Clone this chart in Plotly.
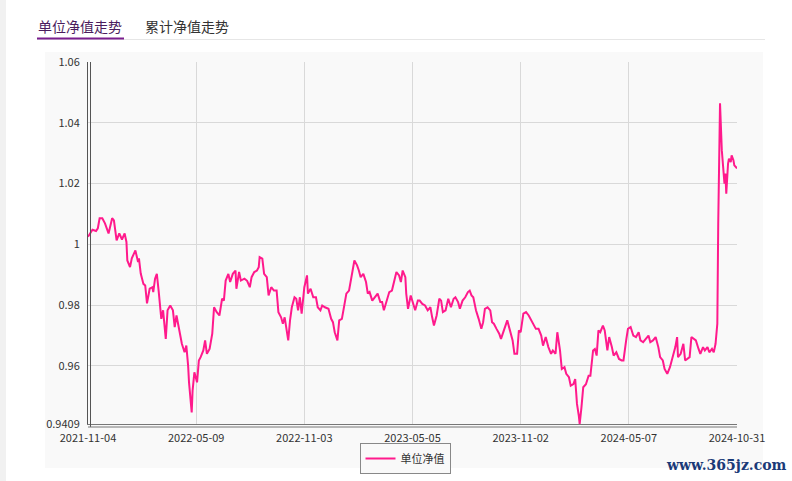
import plotly.graph_objects as go

# trading-day index since 2021-11-04 and unit NAV
day = [0, 5, 9, 11, 13, 16, 19, 23, 27, 29, 32, 35, 38, 41, 43, 44, 47, 49, 53, 56,
       57, 59, 62, 64, 66, 69, 72, 73, 75, 77, 79, 82, 84, 87, 89, 92, 95, 97, 99, 102,
       105, 108, 110, 112, 113, 116, 117, 119, 122, 124, 126, 129, 131, 133, 136, 139, 141, 144, 147, 150,
       152, 154, 157, 159, 162, 165, 166, 169, 171, 175, 178, 181, 183, 186, 189, 191, 192, 195, 197, 200,
       202, 205, 208, 211, 213, 216, 218, 220, 222, 224, 226, 228, 231, 233, 235, 237, 239, 242, 245, 246,
       249, 252, 255, 257, 260, 262, 265, 269, 272, 274, 276, 279, 281, 284, 287, 289, 292, 294, 296, 298,
       301, 303, 305, 308, 311, 313, 315, 318, 321, 324, 327, 329, 331, 334, 337, 340, 343, 345, 348, 350,
       352, 355, 356, 358, 361, 364, 366, 369, 371, 374, 377, 380, 383, 385, 387, 390, 393, 395, 397, 400,
       403, 406, 409, 411, 414, 416, 419, 422, 425, 427, 429, 431, 434, 437, 440, 442, 444, 447, 450, 452,
       454, 457, 460, 462, 465, 467, 469, 472, 475, 477, 480, 482, 484, 487, 490, 493, 496, 498, 501, 504,
       507, 509, 512, 515, 518, 520, 523, 525, 528, 530, 533, 535, 538, 540, 543, 545, 547, 549, 550, 552,
       554, 557, 560, 562, 565, 567, 569, 571, 573, 576, 578, 581, 583, 586, 588, 591, 594, 597, 599, 602,
       604, 607, 610, 613, 616, 618, 621, 624, 627, 629, 632, 635, 638, 640, 643, 645, 648, 651, 654, 657,
       659, 660, 663, 666, 668, 670, 673, 675, 678, 680, 683, 685, 688, 690, 693, 695, 698, 700, 702, 704,
       705, 706, 707, 709, 711, 712, 713, 714, 716, 717, 719, 720, 722, 723, 726]
nav = [1.0025, 1.0048, 1.0044, 1.0053, 1.0086, 1.0086, 1.0069, 1.0036, 1.0086, 1.0079,
       1.0013, 1.0036, 1.0016, 1.0036, 1.0008, 0.9947, 0.9925, 0.9954, 0.9980, 0.9942,
       0.9954, 0.9904, 0.9870, 0.9865, 0.9806, 0.9854, 0.9859, 0.9843, 0.9887, 0.9903,
       0.9848, 0.9755, 0.9783, 0.9689, 0.9783, 0.9799, 0.9783, 0.9728, 0.9766, 0.9722,
       0.9673, 0.9645, 0.9667, 0.9601, 0.9546, 0.9447, 0.9519, 0.9579, 0.9546, 0.9618,
       0.9629, 0.9651, 0.9684, 0.9640, 0.9656, 0.9706, 0.9793, 0.9777, 0.9766, 0.9821,
       0.9815, 0.9881, 0.9903, 0.9876, 0.9903, 0.9914, 0.9854, 0.9909, 0.9881, 0.9887,
       0.9880, 0.9859, 0.9892, 0.9909, 0.9914, 0.9925, 0.9958, 0.9953, 0.9903, 0.9892,
       0.9832, 0.9859, 0.9848, 0.9848, 0.9777, 0.9760, 0.9739, 0.9760, 0.9728, 0.9684,
       0.9750, 0.9793, 0.9826, 0.9821, 0.9783, 0.9826, 0.9772, 0.9859, 0.9898, 0.9838,
       0.9854, 0.9826, 0.9826, 0.9793, 0.9783, 0.9799, 0.9793, 0.9788, 0.9755, 0.9744,
       0.9711, 0.9684, 0.9750, 0.9755, 0.9804, 0.9838, 0.9848, 0.9876, 0.9914, 0.9947,
       0.9931, 0.9914, 0.9892, 0.9903, 0.9876, 0.9838, 0.9843, 0.9815, 0.9826, 0.9838,
       0.9810, 0.9810, 0.9783, 0.9815, 0.9843, 0.9848, 0.9892, 0.9909, 0.9898, 0.9876,
       0.9914, 0.9892, 0.9838, 0.9788, 0.9832, 0.9804, 0.9783, 0.9815, 0.9815, 0.9804,
       0.9799, 0.9783, 0.9793, 0.9760, 0.9733, 0.9766, 0.9821, 0.9815, 0.9777, 0.9783,
       0.9821, 0.9793, 0.9821, 0.9826, 0.9810, 0.9788, 0.9815, 0.9826, 0.9843, 0.9848,
       0.9832, 0.9826, 0.9783, 0.9755, 0.9722, 0.9744, 0.9788, 0.9793, 0.9783, 0.9744,
       0.9739, 0.9722, 0.9706, 0.9689, 0.9717, 0.9728, 0.9750, 0.9717, 0.9684, 0.9640,
       0.9640, 0.9717, 0.9711, 0.9772, 0.9777, 0.9766, 0.9750, 0.9739, 0.9722, 0.9722,
       0.9700, 0.9667, 0.9695, 0.9662, 0.9640, 0.9651, 0.9640, 0.9711, 0.9651, 0.9590,
       0.9596, 0.9574, 0.9563, 0.9535, 0.9540, 0.9557, 0.9475, 0.9437, 0.9409, 0.9464,
       0.9530, 0.9540, 0.9568, 0.9568, 0.9651, 0.9656, 0.9634, 0.9717, 0.9711, 0.9733,
       0.9717, 0.9651, 0.9695, 0.9662, 0.9634, 0.9645, 0.9623, 0.9618, 0.9618, 0.9684,
       0.9722, 0.9728, 0.9700, 0.9695, 0.9711, 0.9684, 0.9678, 0.9689, 0.9700, 0.9678,
       0.9684, 0.9695, 0.9662, 0.9629, 0.9618, 0.9590, 0.9574, 0.9596, 0.9629, 0.9662,
       0.9695, 0.9629, 0.9640, 0.9673, 0.9618, 0.9623, 0.9629, 0.9695, 0.9689, 0.9684,
       0.9656, 0.9640, 0.9662, 0.9651, 0.9662, 0.9645, 0.9656, 0.9645, 0.9673, 0.9739,
       1.0068, 1.0343, 1.0464, 1.0310, 1.0244, 1.0200, 1.0233, 1.0167, 1.0266, 1.0282,
       1.0271, 1.0293, 1.0277, 1.0260, 1.0250]

tick_days = [0, 121, 242, 363, 484, 605, 726]
tick_dates = ["2021-11-04", "2022-05-09", "2022-11-03", "2023-05-05",
              "2023-11-02", "2024-05-07", "2024-10-31"]
y_ticks = [0.9409, 0.96, 0.98, 1.0, 1.02, 1.04, 1.06]
y_labels = ["0.9409", "0.96", "0.98", "1", "1.02", "1.04", "1.06"]

FONT = "Noto Sans CJK SC, Noto Sans, sans-serif"
W, H = 792, 481
L, R, T, B = 88, 55, 62, 57
PW, PH = W - L - R, H - T - B


def px(x):
    return (x - L) / PW


def py(y):
    return (H - B - y) / PH


fig = go.Figure()
fig.add_trace(go.Scatter(
    x=day, y=nav, mode="lines", name="单位净值",
    line=dict(color="#ff1a8c", width=2),
))

shapes = [
    # chart container
    dict(type="rect", xref="paper", yref="paper", x0=px(45), x1=px(763), y0=py(468), y1=py(52),
         fillcolor="#f9f9f9", line=dict(width=0), layer="below"),
    # left page strip
    dict(type="rect", xref="paper", yref="paper", x0=px(0), x1=px(6), y0=py(481), y1=py(0),
         fillcolor="#f1f1f1", line=dict(width=0), layer="below"),
    # tab separator
    dict(type="line", xref="paper", yref="paper", x0=px(37), x1=px(765), y0=py(39.5), y1=py(39.5),
         line=dict(color="#e6e6e6", width=1)),
    # active tab underline
    dict(type="line", xref="paper", yref="paper", x0=px(37), x1=px(124), y0=py(38.5), y1=py(38.5),
         line=dict(color="#7a1f8e", width=2)),
    # double axis lines
    dict(type="line", xref="paper", yref="paper", x0=px(90.5), x1=px(90.5), y0=py(427), y1=1,
         line=dict(color="#555555", width=1)),
    dict(type="line", xref="paper", yref="paper", x0=px(88), x1=1, y0=py(427), y1=py(427),
         line=dict(color="#777777", width=1)),
]

annotations = [
    dict(text="单位净值走势", xref="paper", yref="paper", x=px(36), y=py(26), xanchor="left",
         yanchor="middle", showarrow=False, font=dict(family=FONT, size=14, color="#4a1c5e")),
    dict(text="累计净值走势", xref="paper", yref="paper", x=px(143), y=py(26), xanchor="left",
         yanchor="middle", showarrow=False, font=dict(family=FONT, size=14, color="#333333")),
    dict(text="<b>www.365jz.com</b>", xref="paper", yref="paper", x=px(726), y=py(465), xanchor="center",
         yanchor="middle", showarrow=False,
         font=dict(family="DejaVu Serif, serif", size=14, color="#1b3a78")),
]

fig.update_layout(
    width=W, height=H, autosize=False,
    margin=dict(l=L, r=R, t=T, b=B, pad=0, autoexpand=False),
    paper_bgcolor="#ffffff", plot_bgcolor="#f9f9f9",
    font=dict(family=FONT, size=11, color="#333333"),
    showlegend=True,
    legend=dict(orientation="h", xref="container", yref="container",
                x=405 / W, xanchor="center", y=(H - 443) / H, yanchor="top",
                bordercolor="#888888", borderwidth=1, bgcolor="#f9f9f9",
                font=dict(family=FONT, size=11, color="#333333"), itemwidth=30),
    shapes=shapes, annotations=annotations,
    xaxis=dict(range=[0, 726], tickvals=tick_days, ticktext=tick_dates, showgrid=True,
               gridcolor="#d9d9d9", gridwidth=1, zeroline=False, showline=True,
               linecolor="#777777", linewidth=1, ticks="", ticklabelstandoff=4, automargin=False,
               tickfont=dict(family=FONT, size=11, color="#333333")),
    yaxis=dict(range=[0.9409, 1.06], tickvals=y_ticks, ticktext=y_labels, showgrid=True,
               gridcolor="#d9d9d9", gridwidth=1, zeroline=False, showline=True,
               linecolor="#555555", linewidth=1, ticks="", ticklabelstandoff=5, automargin=False,
               tickfont=dict(family=FONT, size=11, color="#333333")),
)

fig.write_html("out.html", config={"displayModeBar": False},
               post_script="document.body.style.margin='0';document.body.style.overflow='hidden';")
